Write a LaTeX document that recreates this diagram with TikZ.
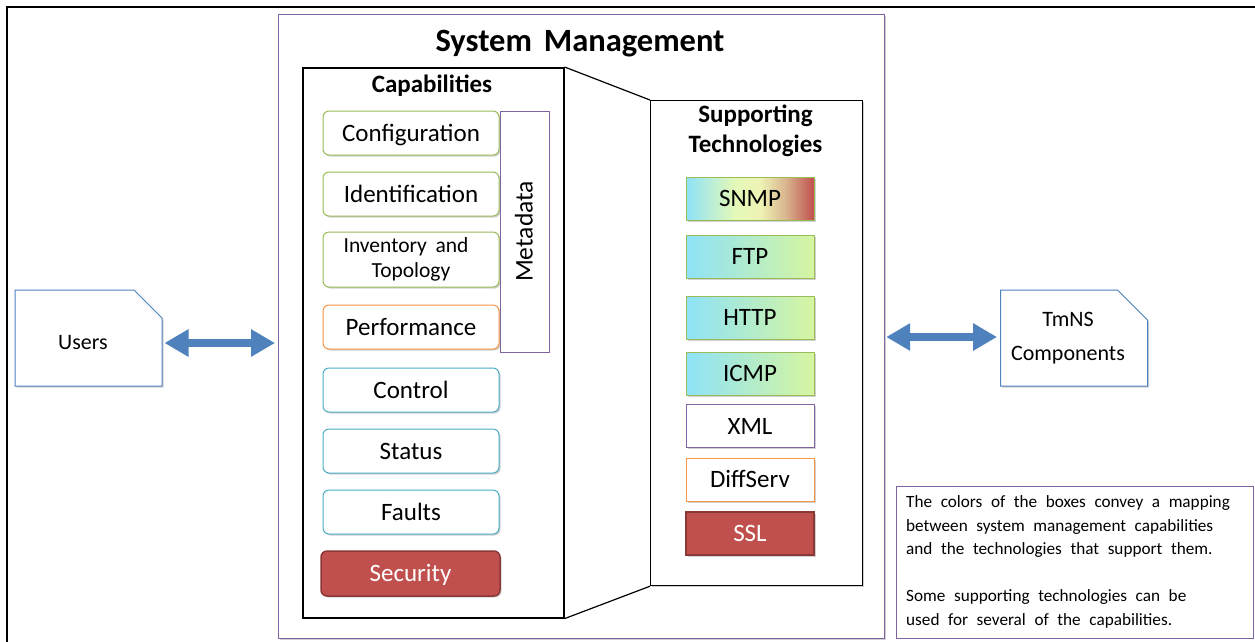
\documentclass[tikz,border=0pt]{standalone}
\usepackage{fontspec}
\setmainfont{Carlito}
\usetikzlibrary{shapes.misc,arrows.meta,shadows}
\definecolor{ogreen}{HTML}{9BBB59}
\definecolor{oorange}{HTML}{F79646}
\definecolor{oaqua}{HTML}{4BACC6}
\definecolor{ored}{HTML}{C0504D}
\definecolor{odred}{HTML}{8C3836}
\definecolor{opurple}{HTML}{8064A2}
\definecolor{oblue}{HTML}{4F81BD}
\definecolor{gcyan}{HTML}{8EE2F8}
\definecolor{gpale}{HTML}{E4F9B8}
\definecolor{glime}{HTML}{D6F5A0}
\definecolor{gyel}{HTML}{EEF3B4}
\definecolor{gtan}{HTML}{D9B48E}
\pgfdeclarehorizontalshading{snmpshade}{100bp}{color(0bp)=(gcyan); color(25bp)=(gcyan); color(44bp)=(gpale); color(54bp)=(gyel); color(64bp)=(gtan); color(75bp)=(ored); color(100bp)=(ored)}
\tikzset{
  softshadow/.style={drop shadow={shadow xshift=1.5pt,shadow yshift=-1.5pt,opacity=0.3,fill=black!60}},
  capbox/.style={draw=#1,line width=1pt,fill=white,rounded corners=6pt,minimum width=176pt,minimum height=44pt,
     inner sep=0pt,font=\fontsize{25}{28}\selectfont,text height=21pt,text depth=5pt,softshadow},
  techbox/.style={draw=#1,line width=1pt,minimum width=128pt,minimum height=43pt,inner sep=0pt,
     font=\fontsize{25}{28}\selectfont,text height=21pt,text depth=5pt,softshadow},
  gradbox/.style={techbox=ogreen,left color=gcyan,middle color=gpale,right color=glime},
  docbox/.style={draw=oblue,line width=1pt,fill=white,chamfered rectangle,chamfered rectangle corners=north east,
     chamfered rectangle xsep=15pt,chamfered rectangle ysep=15pt,minimum width=147pt,minimum height=96pt,inner sep=0pt,
     font=\fontsize{22}{34}\selectfont,align=center,softshadow},
  bigarrow/.style={oblue,line width=8pt,{Triangle[width=26pt,length=24pt]}-{Triangle[width=26pt,length=24pt]}},
}
\begin{document}
\begin{tikzpicture}[x=1pt,y=-1pt]
\useasboundingbox (0,0) rectangle (1255,641);
\fill[white] (0,0) rectangle (1255,641);
\begin{scope}
\clip (0,0) rectangle (1255,641);
\draw[line width=2.5pt] (7,7) rectangle (1290,680);
\end{scope}
% System management frame
\node[draw=opurple,line width=1.2pt,minimum width=606pt,minimum height=624pt,anchor=north west,inner sep=0pt,softshadow,fill=white] (sys) at (278,14) {};
\node[font=\bfseries\fontsize{32.5}{36}\selectfont] (title) at (580,44) {\spaceskip=0.37em\relax System Management};
% capabilities and supporting boxes
\node[draw,line width=1.6pt,minimum width=261pt,minimum height=550pt,anchor=north west,inner sep=0pt,fill=white,softshadow] (cap) at (302,67) {};
\node[draw,line width=1.2pt,minimum width=212pt,minimum height=485pt,anchor=north west,inner sep=0pt,fill=white,softshadow] (sup) at (650,100) {};
\draw[line width=1.2pt] (cap.north east) -- (sup.north west);
\draw[line width=1.2pt] (cap.south east) -- (sup.south west);
\node[font=\bfseries\fontsize{25}{28}\selectfont] (captitle) at (432,86) {Capabilities};
\node[font=\bfseries\fontsize{25}{30}\selectfont,align=center] (suptitle) at (755.5,131) {Supporting\\Technologies};
% capability items
\node[capbox=ogreen] (config) at (411,133) {Configuration};
\node[capbox=ogreen] (ident) at (411,194) {Identification};
\node[draw=ogreen,line width=1pt,fill=white,rounded corners=6pt,minimum width=176pt,minimum height=55pt,inner sep=0pt,softshadow,align=center,font=\fontsize{21.5}{25}\selectfont] (inv) at (411,259.5) {\spaceskip=0.4em\relax Inventory and\hspace*{10pt}\\Topology};
\node[capbox=oorange] (perf) at (411,327) {Performance};
\node[capbox=oaqua] (control) at (411,390) {Control};
\node[capbox=oaqua] (status) at (411,451) {Status};
\node[capbox=oaqua] (faults) at (411,512) {Faults};
\node[capbox=odred,fill=ored,text=white,minimum width=179pt,minimum height=45pt,line width=1.5pt] (sec) at (410.5,573.5) {Security};
\node[draw=opurple,line width=1pt,fill=white,minimum width=49pt,minimum height=241pt,inner sep=0pt] (meta) at (524.5,231.5) {};
\node[rotate=90,font=\fontsize{25.5}{28}\selectfont,text height=21.4pt,text depth=5.1pt,inner sep=0pt] (metatext) at (meta.center) {Metadata};
% technologies
\node[techbox=ogreen,shading=snmpshade] (snmp) at (750,198.5) {SNMP};
\node[gradbox] (ftp) at (750,256.5) {FTP};
\node[gradbox] (http) at (750,317.5) {HTTP};
\node[gradbox] (icmp) at (750,373.5) {ICMP};
\node[techbox=opurple,fill=white] (xml) at (750,426) {XML};
\node[techbox=oorange,fill=white] (diff) at (750,479.5) {DiffServ};
\node[techbox=odred,fill=ored,text=white,line width=1.5pt] (ssl) at (750,533.5) {SSL};
% external
\node[docbox,text height=24pt,text depth=2pt] (users) at (88.5,338) {\hspace*{-11pt}Users};
\node[docbox] (tmns) at (1074,338) {\hspace*{-12pt}TmNS\\\hspace*{-12pt}Components};
\draw[bigarrow] ([xshift=2pt]users.east |- 0,343) -- ([xshift=-3pt]sys.west |- 0,343);
\draw[bigarrow] ([xshift=1pt]sys.east |- 0,337) -- ([xshift=-3pt]tmns.west |- 0,337);
% note
\node[draw=opurple,line width=1pt,fill=white,minimum width=357pt,minimum height=152pt,anchor=north west,inner sep=0pt] (note) at (896,486) {};
\node[anchor=north west,align=left,text width=352pt,inner sep=0pt,font=\fontsize{17.2}{23.5}\selectfont] (notetext) at (906,495.5)
 {\spaceskip=0.5em\relax The colors of the boxes convey a mapping\\between system management capabilities\\and the technologies that support them.\\[23.5pt]Some supporting technologies can be\\used for several of the capabilities.};
\end{tikzpicture}
\end{document}
